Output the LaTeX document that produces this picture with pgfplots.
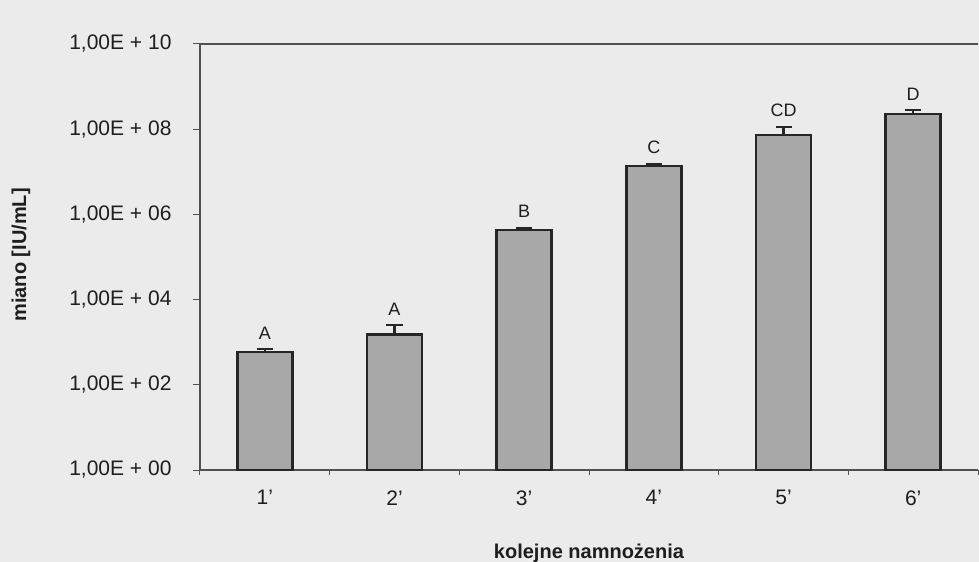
\documentclass[border=0pt]{standalone}
\usepackage{fontspec}
\setmainfont{Liberation Sans}
\usepackage{pgfplots}
\pgfplotsset{compat=1.18}

\definecolor{paper}{HTML}{EBEBEB}
\definecolor{axisgray}{HTML}{505050}
\definecolor{barfill}{HTML}{A8A8A8}
\definecolor{baredge}{HTML}{262626}
\definecolor{ink}{HTML}{1E1E1E}

% titre (miano) of successive passages, with upper error
\pgfplotstableread{
x  y       err
1  580     110
2  1530    970
3  4.3e5   5.7e4
4  1.35e7  2.0e6
5  7.4e7   4.1e7
6  2.27e8  5.0e7
}\titre

% letters of homogeneous groups, set just above each error cap
\pgfplotstableread{
x  top     lbl
1  690     A
2  2500    A
3  4.87e5  B
4  1.55e7  C
5  1.15e8  CD
6  2.77e8  D
}\groups

\begin{document}
\begin{tikzpicture}
\useasboundingbox (-200bp,-92bp) rectangle (779bp,470bp);
\fill[paper] (-200bp,-92bp) rectangle (779bp,470bp);
\begin{axis}[
  at={(0,0)}, anchor=south west,
  scale only axis, width=778bp, height=426bp,
  ymode=log, ymin=1, ymax=1e10,
  xmin=0.5, xmax=6.5,
  axis lines=left,
  axis line style={draw=axisgray, line width=1.1bp, -},
  every tick/.style={draw=axisgray, line width=1bp},
  tick align=outside,
  major tick length=7bp, minor tick length=5bp,
  ytick={1,1e2,1e4,1e6,1e8,1e10},
  yticklabels={{1,00E + 00},{1,00E + 02},{1,00E + 04},{1,00E + 06},{1,00E + 08},{1,00E + 10}},
  yminorticks=false,
  xtick={1,2,3,4,5,6},
  xticklabels={1’,2’,3’,4’,5’,6’},
  major x tick style={draw=none},
  minor xtick={0.5,1.5,2.5,3.5,4.5,5.5,6.5},
  ticklabel style={font=\fontsize{21bp}{25bp}\selectfont, text=ink},
  yticklabel style={xshift=-18bp},
  xticklabel style={yshift=-10bp},
  xlabel={kolejne namnożenia},
  ylabel={miano [IU/mL]},
  label style={font=\fontsize{20bp}{24bp}\selectfont\bfseries, text=ink},
  xlabel style={at={(axis description cs:0.5,-0.195)}, anchor=center},
  ylabel style={at={(axis description cs:-0.230,0.505)}, anchor=center, rotate=0},
  clip=false,
]
% top frame line at the upper limit of the scale
\addplot[draw=axisgray, line width=1.1bp, mark=none] coordinates {(0.5,1e10) (6.5,1e10)};
\addplot[ybar, bar width=55bp, fill=barfill, draw=baredge, line width=2.4bp,
  error bars/.cd, y dir=plus, y explicit,
  error bar style={draw=baredge, line width=2.2bp},
  error mark options={rotate=90, draw=baredge, line width=2.2bp, mark size=8bp}]
  table[x=x, y=y, y error=err] {\titre};
\addplot[draw=none, mark=none, nodes near coords, point meta=explicit symbolic,
  nodes near coords style={anchor=base, yshift=10bp, inner sep=0pt,
    font=\fontsize{18bp}{21bp}\selectfont, text=ink}]
  table[x=x, y=top, meta=lbl] {\groups};
\end{axis}
\end{tikzpicture}
\end{document}
